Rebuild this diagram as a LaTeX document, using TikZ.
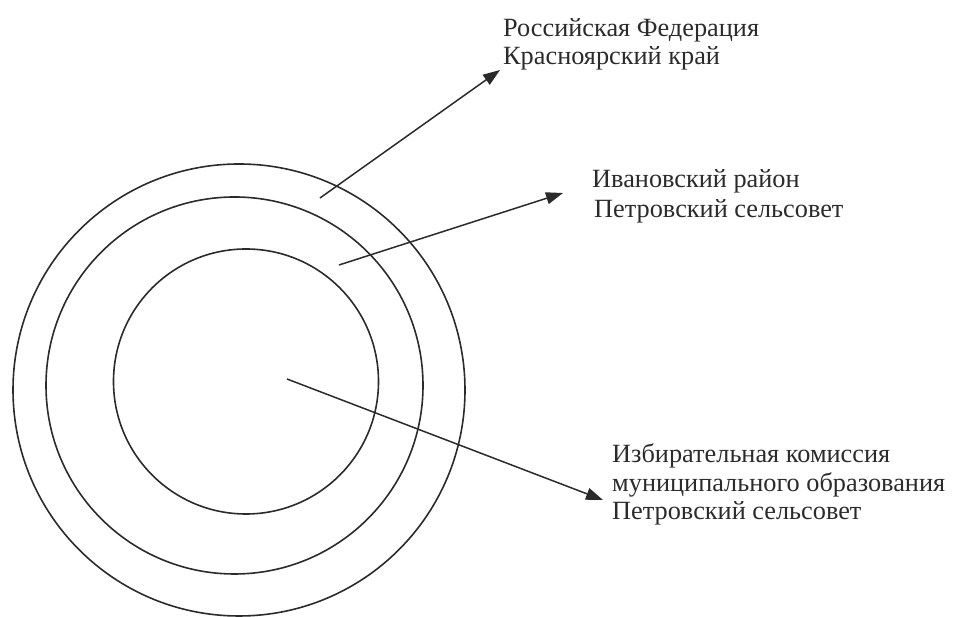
\documentclass[tikz,border=0pt]{standalone}
\usepackage{fontspec}
\setmainfont{Liberation Serif}
\usetikzlibrary{arrows.meta}
\definecolor{ink}{HTML}{2B2B2B}
\begin{document}
\begin{tikzpicture}[x=1pt,y=1pt,
  ring/.style={draw=ink, line width=1.6pt, circle, inner sep=0pt},
  pointer/.style={draw=ink, line width=1.5pt, -{Triangle[length=17pt,width=12pt]}},
  lbl/.style={anchor=base west, inner sep=0pt, font=\fontsize{26.3}{30}\selectfont, text=ink}]
\useasboundingbox (0,0) rectangle (954,617);
% circles
\node[ring, minimum size=452pt] (outer) at (239,227) {};
\node[ring, minimum size=377pt] (middle) at (234.5,231.5) {};
\node[ring, minimum size=265pt] (inner) at (246,235.5) {};
% labels
\node[lbl] (l1a) at (503,580) {Российская Федерация};
\node[lbl] (l1b) at (503,552) {Красноярский край};
\node[lbl] (l2a) at (592,429) {Ивановский район};
\node[lbl] (l2b) at (594,399) {Петровский сельсовет};
\node[lbl] (l3a) at (612,154) {Избирательная комиссия};
\node[lbl] (l3b) at (612,125) {муниципального образования};
\node[lbl] (l3c) at (612,97) {Петровский сельсовет};
% pointer ends
\coordinate (s1) at (320,419);
\coordinate (e1) at (500,547);
\coordinate (s2) at (339,352);
\coordinate (e2) at (563,424);
\coordinate (s3) at (287,238);
\coordinate (e3) at (603,117);
\draw[pointer] (s1) -- (e1);
\draw[pointer] (s2) -- (e2);
\draw[pointer] (s3) -- (e3);
\end{tikzpicture}
\end{document}
